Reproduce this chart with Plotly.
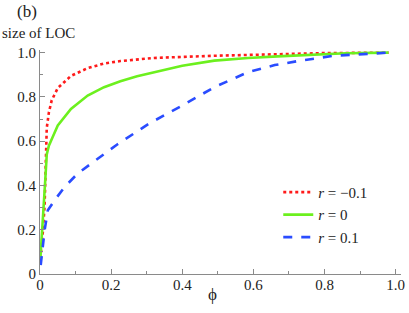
import plotly.graph_objects as go

# data
x_red = [0.001, 0.004, 0.008, 0.013, 0.016, 0.019, 0.025, 0.033, 0.05, 0.087, 0.134, 0.18, 0.226, 0.32, 0.49, 0.66, 0.8, 0.98]
y_red = [0.07, 0.12, 0.19, 0.31, 0.45, 0.66, 0.73, 0.785, 0.84, 0.895, 0.93, 0.951, 0.962, 0.976, 0.986, 0.994, 0.998, 1.0]

x_green = [0.001, 0.005, 0.01, 0.015, 0.019, 0.025, 0.036, 0.05, 0.087, 0.134, 0.18, 0.226, 0.273, 0.324, 0.4, 0.49, 0.585, 0.668, 0.76, 0.86, 0.98]
y_green = [0.07, 0.16, 0.28, 0.43, 0.54, 0.58, 0.62, 0.671, 0.746, 0.806, 0.844, 0.871, 0.893, 0.912, 0.941, 0.964, 0.976, 0.983, 0.99, 0.997, 1.0]

x_blue = [0.002, 0.008, 0.013, 0.022, 0.041, 0.069, 0.106, 0.143, 0.18, 0.217, 0.306, 0.4, 0.49, 0.585, 0.66, 0.733, 0.826, 0.92, 0.98]
y_blue = [0.04, 0.12, 0.198, 0.288, 0.333, 0.393, 0.454, 0.498, 0.543, 0.585, 0.679, 0.761, 0.844, 0.912, 0.944, 0.964, 0.986, 0.995, 1.0]

series_names = ["<i>r</i> = \u22120.1", "<i>r</i> = 0", "<i>r</i> = 0.1"]
tick_vals = [0, 0.2, 0.4, 0.6, 0.8, 1.0]
tick_text = ["0", "0.2", "0.4", "0.6", "0.8", "1.0"]

FONT = "Liberation Serif"
AX = "#8a8a8a"

fig = go.Figure()
fig.add_trace(go.Scatter(x=x_red, y=y_red, mode="lines", name=series_names[0], legendgroup="a",
                         line=dict(color="#ff1a1a", width=2.6, dash="dot")))
fig.add_trace(go.Scatter(x=x_green, y=y_green, mode="lines", name=series_names[1], legendgroup="b",
                         line=dict(color="#6cf01e", width=2.6, dash="solid")))
fig.add_trace(go.Scatter(x=x_blue, y=y_blue, mode="lines", name=series_names[2], legendgroup="c",
                         line=dict(color="#2a4cff", width=2.6, dash="dash")))

axis_common = dict(
    showgrid=False, zeroline=False, showline=True, linecolor=AX, linewidth=1,
    ticks="inside", ticklen=5, tickcolor=AX, tickwidth=1,
    tickvals=tick_vals, ticktext=tick_text,
    tickfont=dict(family=FONT, size=15, color="#222"),
    minor=dict(dtick=0.1, tick0=0, ticks="inside", ticklen=3, tickcolor=AX, tickwidth=1),
)

fig.update_layout(
    width=409, height=313,
    font=dict(family=FONT, size=14, color="#222"),
    margin=dict(l=40, r=4, t=50, b=39),
    paper_bgcolor="white", plot_bgcolor="white",
    showlegend=True,
    legend=dict(x=0.66, y=0.438, xanchor="left", yanchor="top", tracegroupgap=0,
                font=dict(family=FONT, size=15, color="#222"), bgcolor="rgba(0,0,0,0)"),
    xaxis=dict(range=[0, 1.015], ticklabelstandoff=-3, **axis_common),
    yaxis=dict(range=[0, 1.012], **axis_common),
    annotations=[
        dict(text="(b)", xref="paper", yref="paper", x=-0.068, y=1.17, xanchor="left", yanchor="middle",
             showarrow=False, font=dict(family=FONT, size=17, color="#222")),
        dict(text="size of LOC", xref="paper", yref="paper", x=-0.11, y=1.076, xanchor="left", yanchor="middle",
             showarrow=False, font=dict(family=FONT, size=15, color="#222")),
        dict(text="\u03d5", xref="paper", yref="paper", x=0.477, y=-0.09, xanchor="center", yanchor="middle",
             showarrow=False, font=dict(family=FONT, size=17, color="#222")),
    ],
)

fig.write_html("out.html", config={"displayModeBar": False},
               post_script="document.body.style.margin='0';document.body.style.padding='0';")
